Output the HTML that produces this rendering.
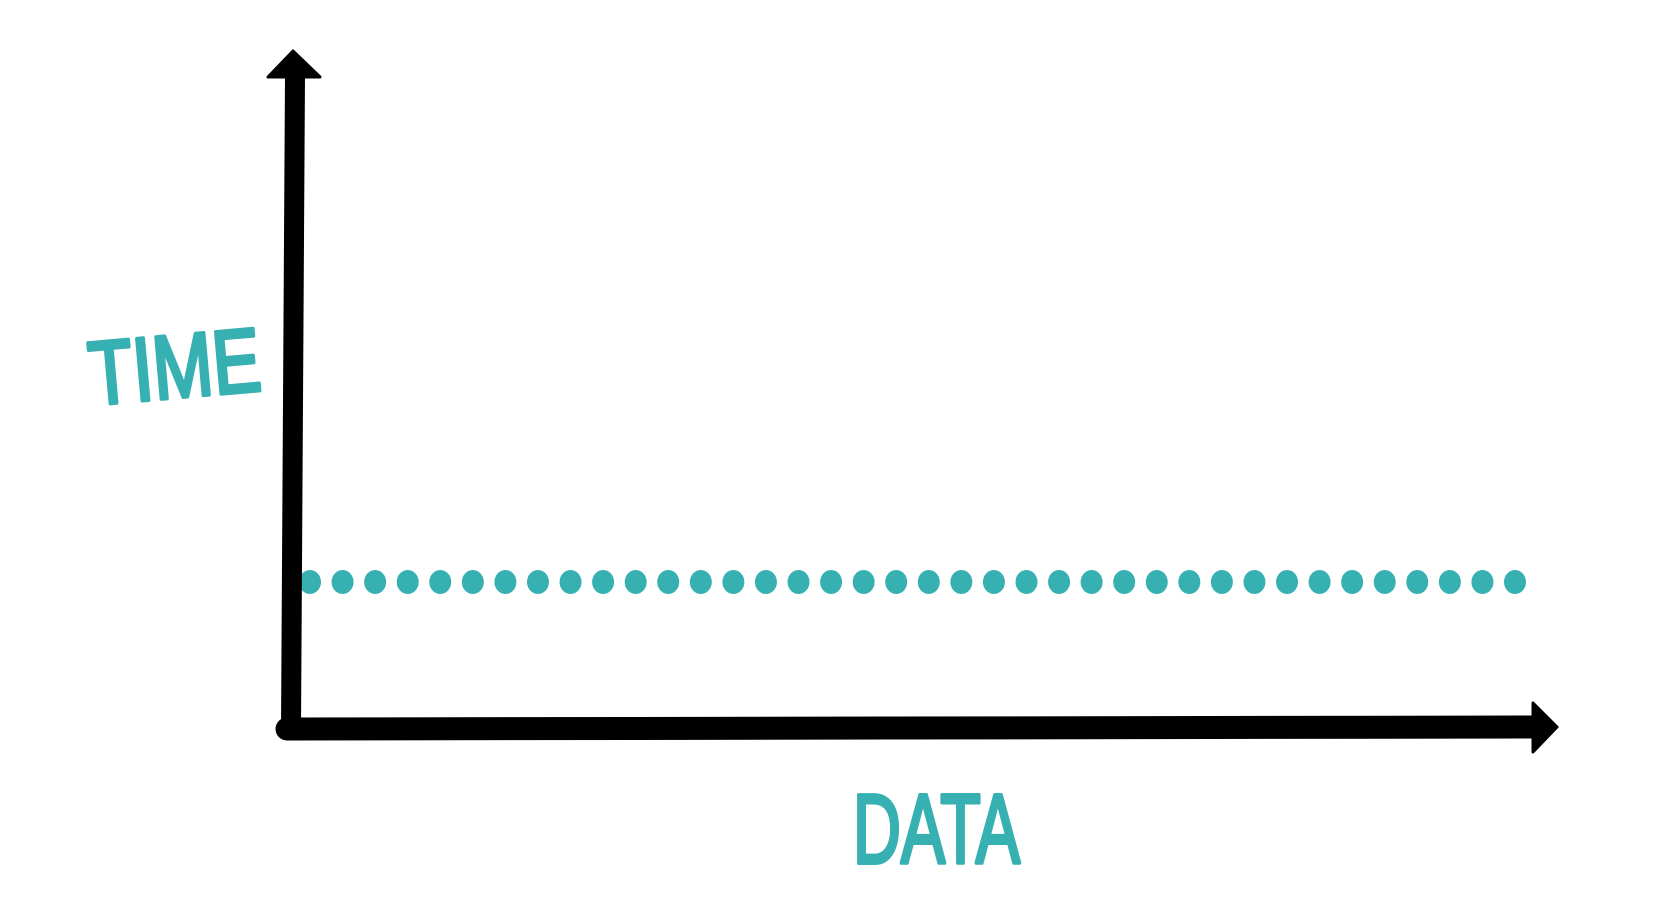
<!DOCTYPE html>
<html>
<head>
<meta charset="utf-8">
<style>
  html,body{margin:0;padding:0;background:#fff;}
  svg{display:block;}
  text{font-family:"Liberation Sans",sans-serif;}
</style>
</head>
<body>
<svg id="chart" width="1680" height="920" viewBox="0 0 1680 920" xmlns="http://www.w3.org/2000/svg">
  <rect x="0" y="0" width="1680" height="920" fill="#fff"/>
  <g id="dots"></g>
  <path d="M295 76 L291 728" stroke="#000" stroke-width="20" stroke-linecap="round" fill="none"/>
  <path d="M293 51 L320 77 L268 77 Z" fill="#000" stroke="#000" stroke-width="3" stroke-linejoin="round"/>
  <path d="M287 729 L1536 727" stroke="#000" stroke-width="23" stroke-linecap="round" fill="none"/>
  <path d="M1557 727 L1533 703 L1533 752 Z" fill="#000" stroke="#000" stroke-width="3" stroke-linejoin="round"/>
  <text x="88" y="398" font-size="90" fill="#37b0b2" stroke="#37b0b2" stroke-width="4" stroke-linejoin="round" textLength="172" lengthAdjust="spacingAndGlyphs" transform="rotate(-5 170 360)">TIME</text>
  <text x="853" y="863" font-size="98" fill="#37b0b2" stroke="#37b0b2" stroke-width="4" stroke-linejoin="round" textLength="167" lengthAdjust="spacingAndGlyphs">DATA</text>
</svg>
<script>
// data: index of each observation and its (constant) value
const categories = Array.from({length:38}, (_, i) => i);
const values = [0.3,0.3,0.3,0.3,0.3,0.3,0.3,0.3,0.3,0.3,0.3,0.3,0.3,0.3,0.3,0.3,0.3,0.3,0.3,0.3,0.3,0.3,0.3,0.3,0.3,0.3,0.3,0.3,0.3,0.3,0.3,0.3,0.3,0.3,0.3,0.3,0.3,0.3];

const xScale = i => 310 + (i / 37) * (1515 - 310);
const yScale = v => 728 - v * (146 / 0.3);

const g = document.getElementById('dots');
const NS = 'http://www.w3.org/2000/svg';
categories.forEach((c, i) => {
  const e = document.createElementNS(NS, 'ellipse');
  
  
  e.setAttribute('cx', xScale(c));
  e.setAttribute('cy', yScale(values[i]));
  e.setAttribute('rx', 11);
  e.setAttribute('ry', 12);
  e.setAttribute('fill', '#37b0b2');
  g.appendChild(e);
});
</script>
</body>
</html>
